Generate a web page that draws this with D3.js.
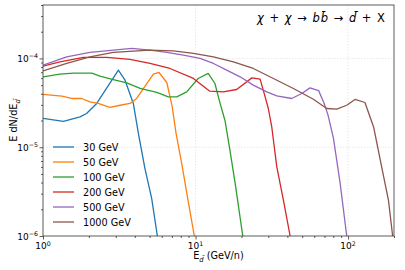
<!DOCTYPE html>
<html><head><meta charset="utf-8">
<script src="https://cdn.jsdelivr.net/npm/d3@7"></script>
<style>body{margin:0;background:#fff}svg{display:block;font-family:"DejaVu Sans",sans-serif}</style>
</head><body>
<script>
const seriesNames = ["30 GeV","50 GeV","100 GeV","200 GeV","500 GeV","1000 GeV"];
const seriesColors = ["#1f77b4","#ff7f0e","#2ca02c","#d62728","#9467bd","#8c564b"];

const e30 = [1.0,1.36,1.75,1.93,2.25,3.12,3.45,3.91,4.22,4.66,5.16,5.62];
const v30 = [2.11e-5,1.96e-5,2.20e-5,2.40e-5,3.11e-5,7.38e-5,5.69e-5,3.11e-5,1.43e-5,5.75e-6,2.64e-6,1e-6];

const e50 = [1.0,1.33,1.54,1.79,2.03,2.30,2.75,3.20,3.72,4.11,4.79,5.29,5.76,6.48,7.02,7.45,8.15,8.93,9.82];
const v50 = [3.93e-5,3.76e-5,3.54e-5,3.54e-5,3.24e-5,3.11e-5,2.81e-5,2.97e-5,3.11e-5,3.54e-5,5.22e-5,6.65e-5,6.95e-5,5.36e-5,2.90e-5,1.44e-5,6.28e-6,2.52e-6,1e-6];

const e100 = [1.0,1.29,1.58,2.09,2.36,2.89,3.54,4.33,5.57,6.63,7.53,8.75,10.4,12.1,13.4,14.5,15.6,16.8,18.2,20.4];
const v100 = [6.21e-5,6.65e-5,6.82e-5,6.82e-5,6.31e-5,5.79e-5,5.31e-5,4.59e-5,4.14e-5,3.69e-5,3.69e-5,4.20e-5,5.95e-5,6.78e-5,5.22e-5,3.1e-5,2.0e-5,9.25e-6,3.9e-6,1e-6];

const e200 = [1.0,1.29,1.84,2.62,3.72,5.03,6.80,9.68,12.4,15.2,18.6,23.4,26.5,28.6,30.0,31.6,34.1,37.7,41.7];
const v200 = [8.18e-5,9.16e-5,1.03e-4,1.03e-4,9.75e-5,8.78e-5,7.71e-5,5.95e-5,4.28e-5,4.20e-5,4.47e-5,6.04e-5,5.85e-5,3.69e-5,2.73e-5,1.69e-5,6.0e-6,2.52e-6,1e-6];

const e500 = [1.0,1.43,2.03,2.89,3.82,5.03,6.48,8.32,10.7,13.1,16.0,19.6,23.9,29.3,34.1,42.7,49.7,56.3,64.1,69.6,73.9,80.2,88.7,98.0];
const v500 = [8.40e-5,1.04e-4,1.17e-4,1.24e-4,1.30e-4,1.24e-4,1.17e-4,1.09e-4,1.0e-4,8.78e-5,7.38e-5,6.21e-5,5.0e-5,4.20e-5,3.79e-5,3.54e-5,4.03e-5,4.66e-5,4.34e-5,3.13e-5,2.30e-5,1.26e-5,3.93e-6,1e-6];

const e1000 = [1.0,1.43,2.03,2.89,3.91,5.03,7.15,9.68,13.1,17.7,23.9,32.4,43.8,59.2,72.5,84.3,98.0,111,129,147,166,184,196];
const v1000 = [7.25e-5,8.78e-5,1.04e-4,1.17e-4,1.21e-4,1.24e-4,1.22e-4,1.14e-4,1.04e-4,9.16e-5,7.71e-5,5.95e-5,4.59e-5,3.47e-5,2.73e-5,2.68e-5,2.97e-5,3.45e-5,3.19e-5,1.69e-5,6.0e-6,2.52e-6,1e-6];

const xTicks = [1,10,100];
const xTickExp = ["0","1","2"];
const yTicks = [1e-6,1e-5,1e-4];
const yTickExp = ["\u22126","\u22125","\u22124"];

const energies = [e30,e50,e100,e200,e500,e1000];
const values = [v30,v50,v100,v200,v500,v1000];

const W = 405, H = 270;
const m = {l:43, t:5, r:11, b:34};
const pw = W - m.l - m.r, ph = H - m.t - m.b;

const svg = d3.select("body").append("svg").attr("width",W).attr("height",H);
const x = d3.scaleLog().domain([1,200]).range([m.l, m.l+pw]);
const y = d3.scaleLog().domain([1e-6,4e-4]).range([m.t+ph, m.t]);

// grid
const grid = svg.append("g");
grid.selectAll(".gx").data(xTicks.filter(d=>d>1)).join("line")
  .attr("x1",d=>x(d)).attr("x2",d=>x(d)).attr("y1",m.t).attr("y2",m.t+ph)
  .attr("stroke","#e3e3e3").attr("stroke-width",0.8).attr("stroke-dasharray","1.5,1.5");
grid.selectAll(".gy").data(yTicks.filter(d=>d>1e-6)).join("line")
  .attr("y1",d=>y(d)).attr("y2",d=>y(d)).attr("x1",m.l).attr("x2",m.l+pw)
  .attr("stroke","#e3e3e3").attr("stroke-width",0.8).attr("stroke-dasharray","1.5,1.5");

// lines
const defs = svg.append("defs");
defs.append("clipPath").attr("id","clip").append("rect")
  .attr("x",m.l).attr("y",m.t).attr("width",pw).attr("height",ph);
const line = d3.line().x(d=>x(d[0])).y(d=>y(d[1]));
const lg = svg.append("g").attr("clip-path","url(#clip)");
energies.forEach((es,i)=>{
  lg.append("path").datum(es.map((e,j)=>[e, values[i][j]]))
    .attr("d",line).attr("fill","none").attr("stroke",seriesColors[i])
    .attr("stroke-width",1.3).attr("stroke-linejoin","round");
});

// minor ticks
const xMinor = [];
[1,10,100].forEach(b=>{for(let k=2;k<=9;k++){const v=b*k; if(v<=200) xMinor.push(v);}});
const yMinor = [];
[1e-6,1e-5,1e-4].forEach(b=>{for(let k=2;k<=9;k++){const v=b*k; if(v<=4e-4) yMinor.push(v);}});

const gx = svg.append("g").attr("transform",`translate(0,${m.t+ph})`);
gx.call(d3.axisBottom(x).tickValues(xTicks).tickFormat("").tickSize(3.5).tickSizeOuter(0));
gx.append("g").call(d3.axisBottom(x).tickValues(xMinor).tickFormat("").tickSize(2).tickSizeOuter(0));
gx.selectAll(".domain").remove();
gx.selectAll("line").attr("stroke","#333").attr("stroke-width",0.8);

const gy = svg.append("g").attr("transform",`translate(${m.l},0)`);
gy.call(d3.axisLeft(y).tickValues(yTicks).tickFormat("").tickSize(3.5).tickSizeOuter(0));
gy.append("g").call(d3.axisLeft(y).tickValues(yMinor).tickFormat("").tickSize(2).tickSizeOuter(0));
gy.selectAll(".domain").remove();
gy.selectAll("line").attr("stroke","#333").attr("stroke-width",0.8);

// frame
svg.append("rect").attr("x",m.l).attr("y",m.t).attr("width",pw).attr("height",ph)
  .attr("fill","none").attr("stroke","#333").attr("stroke-width",0.8);

// tick labels
xTicks.forEach((t,i)=>{
  const tx = svg.append("text").attr("x",x(t)).attr("y",m.t+ph+13).attr("text-anchor","middle")
    .attr("font-size",9).attr("fill","#000");
  tx.append("tspan").text("10");
  tx.append("tspan").attr("dy",-3.5).attr("font-size",6.3).text(xTickExp[i]);
});
yTicks.forEach((t,i)=>{
  const tx = svg.append("text").attr("x",m.l-5).attr("y",y(t)+3.5).attr("text-anchor","end")
    .attr("font-size",9).attr("fill","#000");
  tx.append("tspan").text("10");
  tx.append("tspan").attr("dy",-3.5).attr("font-size",6.3).text(yTickExp[i]);
});

// axis labels
const xl = svg.append("text").attr("x",m.l+pw/2).attr("y",259).attr("text-anchor","middle")
  .attr("font-size",9.7);
xl.append("tspan").text("E");
xl.append("tspan").attr("dy",2.5).attr("font-size",6.8).attr("font-style","italic").text("d\u0304");
xl.append("tspan").attr("dy",-2.5).text(" (GeV/n)");

const yl = svg.append("text").attr("transform",`translate(17,${m.t+ph/2}) rotate(-90)`)
  .attr("text-anchor","middle").attr("font-size",9.7);
yl.append("tspan").text("E dN/dE");
yl.append("tspan").attr("dy",2.5).attr("font-size",6.8).attr("font-style","italic").text("d\u0304");

// legend
const leg = svg.append("g");
seriesNames.forEach((n,i)=>{
  const yy = 147 + i*15;
  leg.append("line").attr("x1",53).attr("x2",74).attr("y1",yy).attr("y2",yy)
    .attr("stroke",seriesColors[i]).attr("stroke-width",1.3);
  leg.append("text").attr("x",83).attr("y",yy+3.5).attr("font-size",9.7).text(n);
});

// annotation
const ann = svg.append("text").attr("x",257).attr("y",22).attr("font-size",11.5)
  .attr("textLength",128).attr("lengthAdjust","spacing");
ann.append("tspan").attr("font-style","italic").text("\u03c7");
ann.append("tspan").text(" + ");
ann.append("tspan").attr("font-style","italic").text("\u03c7");
ann.append("tspan").text(" \u2192 ");
ann.append("tspan").attr("font-style","italic").text("bb\u0304");
ann.append("tspan").text(" \u2192 ");
ann.append("tspan").attr("font-style","italic").text("d\u0304");
ann.append("tspan").text(" + X");
</script>
</body></html>
